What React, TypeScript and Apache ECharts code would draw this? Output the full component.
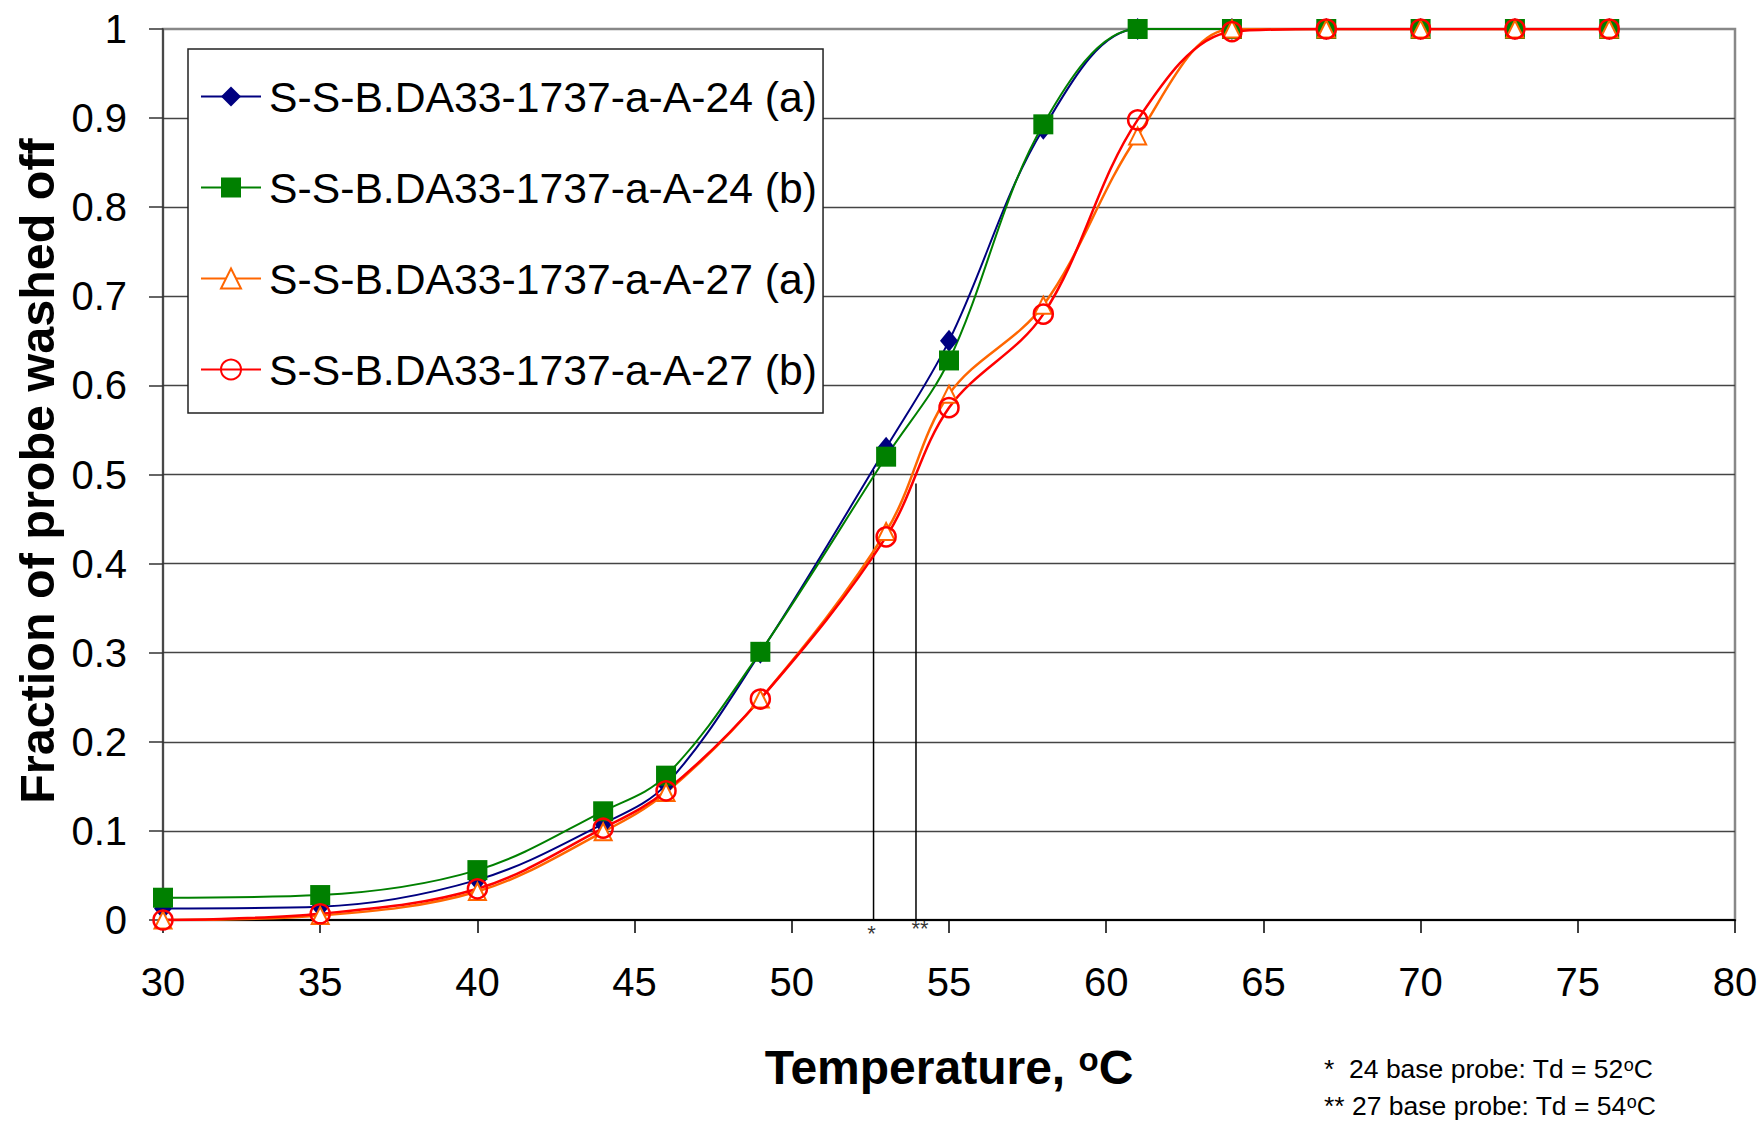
import React, { useEffect, useRef } from 'react';
import * as echarts from 'echarts';

const temps = [30, 35, 40, 44, 46, 49, 53, 55, 58, 61, 64, 67, 70, 73, 76];
const a24a = [0.013, 0.015, 0.045, 0.108, 0.152, 0.3, 0.53, 0.65, 0.888, 1, 1, 1, 1, 1, 1];
const a24b = [0.025, 0.028, 0.056, 0.122, 0.162, 0.301, 0.52, 0.628, 0.893, 1, 1, 1, 1, 1, 1];
const a27a = [0, 0.005, 0.032, 0.099, 0.143, 0.248, 0.436, 0.59, 0.69, 0.88, 1, 1, 1, 1, 1];
const a27b = [0, 0.007, 0.035, 0.103, 0.145, 0.248, 0.43, 0.575, 0.68, 0.898, 0.997, 1, 1, 1, 1];
const seriesNames = [
  'S-S-B.DA33-1737-a-A-24 (a)',
  'S-S-B.DA33-1737-a-A-24 (b)',
  'S-S-B.DA33-1737-a-A-27 (a)',
  'S-S-B.DA33-1737-a-A-27 (b)',
];
const tdX = [52.6, 53.95];
const tdTop = [0.505, 0.49];
const tdMarks = ['*', '**'];
const footnotes = ['*  24 base probe: Td = 52', '** 27 base probe: Td = 54'];

export default function App() {
  const ref = useRef<HTMLDivElement>(null);
  useEffect(() => {
    const chart = echarts.init(ref.current!, null, { renderer: 'svg' });
    const font = 'Liberation Sans';
    const mk = (arr: number[]) => temps.map((t, i) => [t, arr[i]]);
    const sm = 0.35;
    const series: any[] = [
      {
        name: seriesNames[0], type: 'line', data: mk(a24a), smooth: sm,
        symbol: 'diamond', symbolSize: [18, 22],
        lineStyle: { color: '#000080', width: 2 }, itemStyle: { color: '#000080' },
      },
      {
        name: seriesNames[1], type: 'line', data: mk(a24b), smooth: sm,
        symbol: 'rect', symbolSize: 20,
        lineStyle: { color: '#008000', width: 2 }, itemStyle: { color: '#008000' },
      },
      {
        name: seriesNames[2], type: 'line', data: mk(a27a), smooth: sm,
        symbol: 'emptyTriangle', symbolSize: 17,
        lineStyle: { color: '#FF6600', width: 2.5 }, itemStyle: { color: '#FF6600', borderWidth: 2 },
      },
      {
        name: seriesNames[3], type: 'line', data: mk(a27b), smooth: sm,
        symbol: 'circle', symbolSize: 19,
        lineStyle: { color: '#FF0000', width: 2.5 },
        itemStyle: { color: 'transparent', borderColor: '#FF0000', borderWidth: 2.5 },
      },
    ];
    tdX.forEach((x, i) => {
      series.push({
        name: 'td' + i, type: 'line', data: [[x, 0], [x, tdTop[i]]],
        symbol: 'none', silent: true, z: 1,
        lineStyle: { color: '#000', width: 1.5 },
      });
    });
    series.push({
      name: 'tdmarks', type: 'scatter', silent: true, symbolSize: 1,
      itemStyle: { color: 'transparent' },
      data: tdX.map((x, i) => ({
        value: [x, 0],
        label: {
          show: true, formatter: tdMarks[i], position: 'bottom', distance: 2,
          offset: i === 0 ? [-2, 0] : [4, -5],
          fontSize: 22, fontFamily: font, color: '#000',
        },
      })),
    });

    chart.setOption({
      animation: false,
      backgroundColor: '#fff',
      grid: {
        left: 163, top: 29, right: 27, bottom: 202,
        show: true, borderColor: '#888', borderWidth: 2.5, backgroundColor: 'transparent',
      },
      xAxis: {
        type: 'value', min: 30, max: 80, interval: 5,
        axisLine: { show: true, onZero: false, lineStyle: { color: '#000', width: 2 } },
        axisTick: { show: true, length: 13, lineStyle: { color: '#000', width: 1.5 } },
        axisLabel: { fontSize: 40, fontFamily: font, color: '#000', margin: 42 },
        splitLine: { show: false },
      },
      yAxis: {
        type: 'value', min: 0, max: 1, interval: 0.1,
        axisLine: { show: true, lineStyle: { color: '#333', width: 1.5 } },
        axisTick: { show: true, length: 14, lineStyle: { color: '#333', width: 1.5 } },
        axisLabel: {
          fontSize: 40, fontFamily: font, color: '#000', margin: 36,
          formatter: (v: number) => String(Math.round(v * 10) / 10),
        },
        splitLine: {
          show: true, showMinLine: false, showMaxLine: false,
          lineStyle: { color: '#444', width: 1.3 },
        },
      },
      legend: {
        data: seriesNames, orient: 'vertical', left: 188, top: 49,
        padding: [26, 6, 22, 12], itemGap: 48, itemWidth: 60, itemHeight: 25,
        backgroundColor: '#fff', borderColor: '#222', borderWidth: 1.5,
        selectedMode: false,
        textStyle: { fontSize: 42.7, fontFamily: font, color: '#000', lineHeight: 43, padding: [0, 0, 0, 3] },
      },
      graphic: [
        {
          type: 'text', x: 37, y: 471, rotation: Math.PI / 2, silent: true,
          style: {
            text: 'Fraction of probe washed off', fontSize: 48.5, fontWeight: 'bold',
            fontFamily: font, fill: '#000', align: 'center', verticalAlign: 'middle',
          },
        },
        {
          type: 'text', x: 949, y: 1067, silent: true,
          style: {
            text: '{a|Temperature, }{s|o}{a|C}', align: 'center', verticalAlign: 'middle',
            fill: '#000',
            rich: {
              a: { fontSize: 48, fontWeight: 'bold', fontFamily: font, lineHeight: 48, fill: '#000' },
              s: { fontSize: 33, fontWeight: 'bold', fontFamily: font, lineHeight: 18, verticalAlign: 'top', fill: '#000' },
            },
          },
        },
        ...footnotes.map((t, i) => ({
          type: 'text', x: 1324, y: 1069 + i * 37, silent: true,
          style: {
            text: '{a|' + t + '}{s|o}{a|C}', align: 'left', verticalAlign: 'middle', fill: '#000',
            rich: {
              a: { fontSize: 26.5, fontFamily: font, lineHeight: 27, fill: '#000' },
              s: { fontSize: 18, fontFamily: font, lineHeight: 2, verticalAlign: 'top', fill: '#000' },
            },
          },
        })),
      ],
      series,
    });
    return () => chart.dispose();
  }, []);
  return (
    <div
      ref={ref}
      style={{ position: 'fixed', left: 0, top: 0, width: 1762, height: 1122, background: '#fff' }}
    />
  );
}
